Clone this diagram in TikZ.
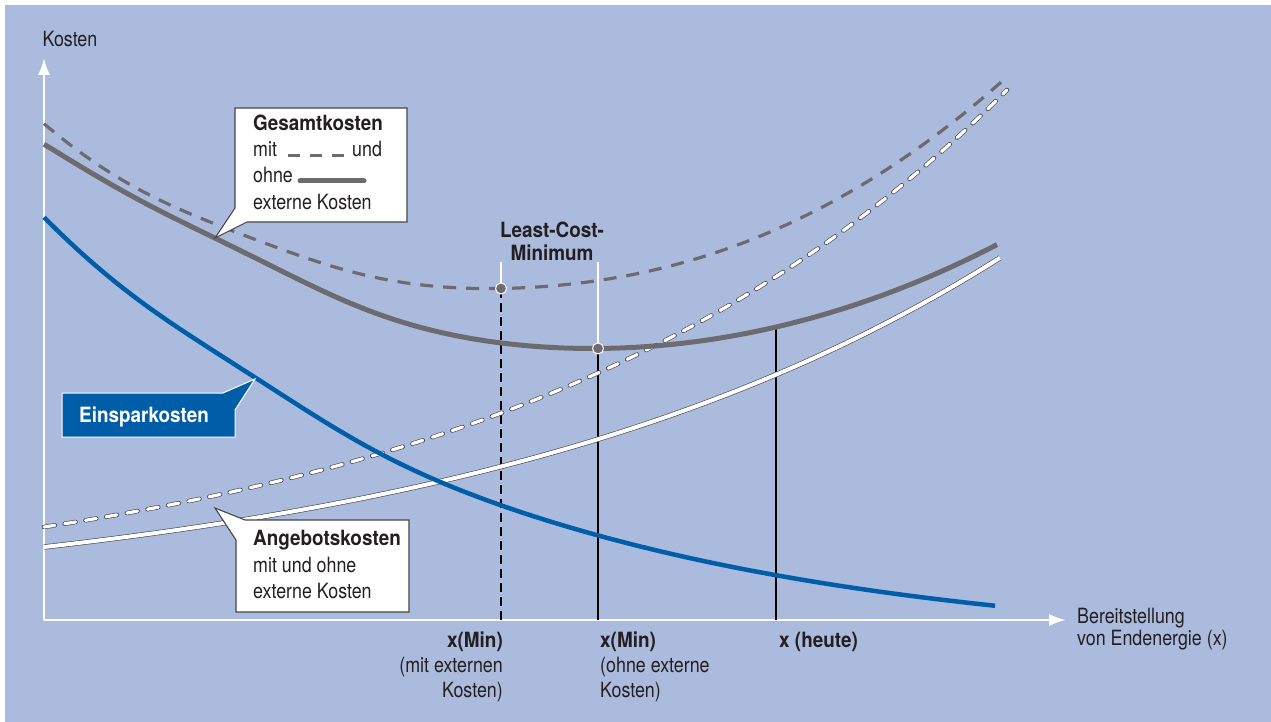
\documentclass[tikz,border=0pt]{standalone}
\usepackage{fontspec}
\usetikzlibrary{arrows.meta}
\setmainfont{TeX Gyre Heros}[FakeStretch=0.85, BoldFeatures={FakeStretch=0.9}]
\definecolor{bg}{RGB}{170,187,221}
\definecolor{cblue}{RGB}{0,94,168}
\definecolor{cgray}{RGB}{108,108,112}
\definecolor{ctext}{RGB}{35,31,32}
\definecolor{cedge}{RGB}{70,70,74}
\tikzset{
  declare function={
    bl(\t)=432*exp(-0.002389*(\t-44))-30+12*exp(-((\t-244)/120)*((\t-244)/120));
    hw(\t)=63*exp(0.001806*(\t-44))+10;
    hd(\t)=80*exp(0.00194*(\t-44))+13;
    cg(\t)=18*((\t-44)/170)*exp(1-(\t-44)/170);
    cd(\t)=10*exp(-((\t-474)/250)*((\t-474)/250));
    gs(\t)=bl(\t)+hw(\t)+cg(\t);
    gd(\t)=bl(\t)+hd(\t)+cd(\t);
  },
  axisline/.style={white, line width=2pt},
  blueline/.style={cblue, line width=4.5pt},
  gsolid/.style={cgray, line width=5pt},
  gdash/.style={cgray, line width=3.2pt, dash pattern=on 13pt off 10pt},
  wsolid/.style={draw=cedge, double=white, double distance=4pt, line width=0.6pt},
  wdash/.style={draw=cedge, double=white, double distance=3.2pt, line width=0.6pt, dash pattern=on 11pt off 10pt, line cap=round},
  callout/.style={fill=white, draw=cedge, line width=1.1pt},
  lbl/.style={text=ctext, font=\fontsize{21}{25}\selectfont, inner sep=0pt},
  blbl/.style={lbl, font=\fontsize{21}{25}\selectfont\bfseries},
  marker/.style={circle, fill=cgray, draw=white, line width=1pt, minimum size=11pt, inner sep=0pt},
}
\begin{document}
\begin{tikzpicture}[x=1pt,y=-1pt]
\useasboundingbox (0,0) rectangle (1271,722);
\fill[white] (0,0) rectangle (1271,722);
\fill[bg] (5,5) rectangle (1271,722);

% axes
\coordinate (O) at (44,620);
\coordinate (Ytip) at (44,58);
\coordinate (Xtip) at (1066,620);
\draw[axisline, -{Latex[length=17pt,width=12pt]}] (O) -- (Ytip);
\draw[axisline, -{Latex[length=17pt,width=12pt]}] (O) -- (Xtip);
\node[lbl, anchor=base] (ylab) at (70,47) {Kosten};
\node[lbl, anchor=base west] (xlab1) at (1077,623) {Bereitstellung};
\node[lbl, anchor=base west] (xlab2) at (1077,645) {von Endenergie (x)};

% key coordinates
\coordinate (m1) at (501,{620-gd(501)});
\coordinate (m2) at (598,{620-gs(598)});
\coordinate (m3) at (776,{620-gs(776)});
\coordinate (b1) at (501,620);
\coordinate (b2) at (598,620);
\coordinate (b3) at (776,620);
\coordinate (t1) at (501,262);
\coordinate (t2) at (598,262);

% vertical lines
\draw[black, line width=1.4pt, dash pattern=on 9pt off 5pt] (b1) -- (m1);
\draw[black, line width=1.4pt] (b2) -- (m2);
\draw[black, line width=2.4pt] (b3) -- (m3);
\draw[white, line width=1.2pt] (m1) -- (t1);
\draw[white, line width=1.2pt] (m2) -- (t2);

% curves
\draw[wdash] plot[domain=44:1007, samples=100, smooth] (\x,{620-hd(\x)});
\draw[wsolid] plot[domain=44:1000, samples=100, smooth] (\x,{620-hw(\x)});
\draw[gdash] plot[domain=44:1007, samples=100, smooth] (\x,{620-gd(\x)});
\draw[gsolid] plot[domain=44:997, samples=100, smooth] (\x,{620-gs(\x)});
\draw[blueline] plot[domain=44:995, samples=100, smooth] (\x,{620-bl(\x)});

\node[marker] (p1) at (m1) {};
\node[marker] (p2) at (m2) {};

% labels on the curves
\node[blbl, anchor=base] (lcm1) at (552,237) {Least-Cost-};
\node[blbl, anchor=base] (lcm2) at (552,260) {Minimum};
\node[blbl, anchor=base east] (xm1) at (503,647) {x(Min)};
\node[lbl, anchor=base east] (xm1b) at (503,672) {(mit externen};
\node[lbl, anchor=base east] (xm1c) at (503,697) {Kosten)};
\node[blbl, anchor=base west] (xm2) at (600,647) {x(Min)};
\node[lbl, anchor=base west] (xm2b) at (600,672) {(ohne externe};
\node[lbl, anchor=base west] (xm2c) at (600,697) {Kosten)};
\node[blbl, anchor=base west] (xh) at (779,647) {x (heute)};

% Gesamtkosten callout
\draw[callout] (235,108) -- (407,108) -- (407,222) -- (247,222) -- (215,238) -- (235,208) -- cycle;
\node[blbl, anchor=base west] (g1) at (253,131) {Gesamtkosten};
\node[lbl, anchor=base west] (g2) at (253,157) {mit};
\node[lbl, anchor=base west] (g3) at (352,157) {und};
\node[lbl, anchor=base west] (g4) at (253,183) {ohne};
\node[lbl, anchor=base west] (g5) at (253,210) {externe Kosten};
\coordinate (d1) at (288,156);
\coordinate (d2) at (344,156);
\draw[cgray, line width=3pt, dash pattern=on 12pt off 10pt] (d1) -- (d2);
\coordinate (s1) at (300,181);
\coordinate (s2) at (364,181);
\draw[cgray, line width=5pt, line cap=round] (s1) -- (s2);

% Einsparkosten callout
\draw[fill=cblue, draw=white, line width=1pt] (62,393) -- (223,393) -- (255,379) -- (235,410) -- (235,437) -- (62,437) -- cycle;
\node[blbl, text=white, anchor=base west] (e1) at (79,422) {Einsparkosten};

% Angebotskosten callout
\draw[callout] (245,520) -- (409,520) -- (409,612) -- (236,612) -- (236,540) -- (215,508) -- cycle;
\node[blbl, anchor=base west] (a1) at (253,545) {Angebotskosten};
\node[lbl, anchor=base west] (a2) at (253,572) {mit und ohne};
\node[lbl, anchor=base west] (a3) at (253,598) {externe Kosten};
\end{tikzpicture}
\end{document}
